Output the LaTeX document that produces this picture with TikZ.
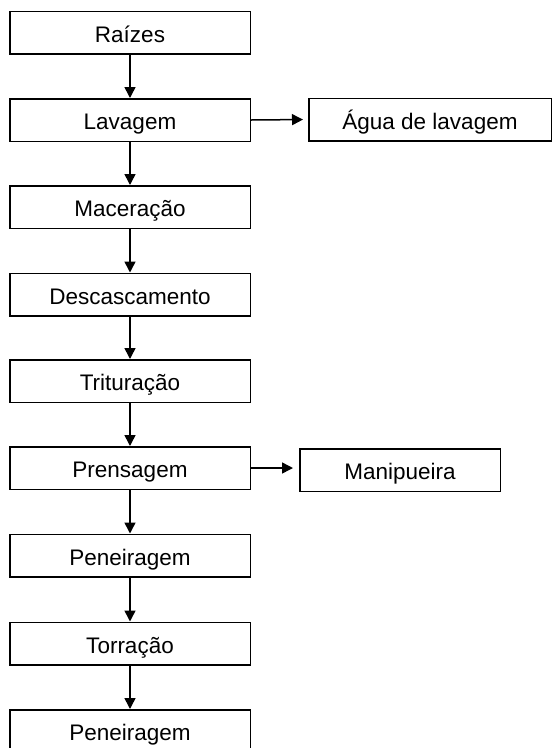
\documentclass[tikz,border=0pt]{standalone}
\usepackage{fontspec}
\setmainfont{Liberation Sans}
\usetikzlibrary{arrows.meta}

\tikzset{
  etapa/.style={draw, line width=1.5pt, minimum width=240.5pt, minimum height=42.5pt,
    inner sep=0pt, text height=19.7pt, text depth=0pt, font=\fontsize{22.5}{26}\selectfont},
  seta/.style={line width=1.5pt, -{Triangle[length=11pt,width=11pt]}}
}

\begin{document}
\begin{tikzpicture}[x=1pt, y=-1pt]
                \clip (0,0) rectangle (553,748);

                % main column
                \node[etapa] (raizes) at (130,32.5) {Raízes};
                \node[etapa] (lavagem) at (130,120) {Lavagem};
                \node[etapa] (maceracao) at (130,207) {Maceração};
                \node[etapa] (descasc) at (130,294.5) {Descascamento};
                \node[etapa] (trituracao) at (130,381) {Trituração};
                \node[etapa] (prensagem) at (130,468) {Prensagem};
                \node[etapa] (peneira1) at (130,555.5) {Peneiragem};
                \node[etapa] (torracao) at (130,643.5) {Torração};
                \node[etapa] (peneira2) at (130,731) {Peneiragem};

                % side outputs
                \node[etapa, minimum width=242.5pt] (agua) at (430,119.5) {Água de lavagem};
                \node[etapa, minimum width=200.5pt] (manip) at (400,470) {Manipueira};

                % arrows
                \draw[seta] (raizes) -- (lavagem);
                \draw[seta] (lavagem) -- (maceracao);
                \draw[seta] (maceracao) -- (descasc);
                \draw[seta] (descasc) -- (trituracao);
                \draw[seta] (trituracao) -- (prensagem);
                \draw[seta] (prensagem) -- (peneira1);
                \draw[seta] (peneira1) -- (torracao);
                \draw[seta] (torracao) -- (peneira2);
                \draw[seta, shorten >=5pt] (lavagem.east) -- (agua.west);
                \draw[seta, shorten >=6pt] (prensagem.east) -- (prensagem.east -| manip.west);
\end{tikzpicture}
\end{document}
